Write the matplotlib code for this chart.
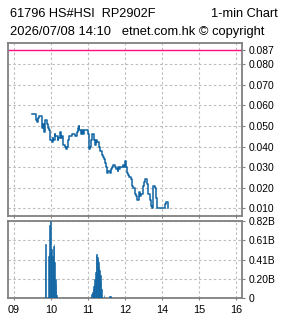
import matplotlib
matplotlib.use("Agg")
import matplotlib.pyplot as plt
from matplotlib.ticker import FixedLocator

# ---------------- data ----------------
# price change points: (clock time, price)
price_times = ["09:30", "09:36", "09:37", "09:39", "09:41", "09:44", "09:45", "09:47", "09:48", "09:50",
               "09:51", "09:53", "09:55", "09:56", "09:58", "09:59", "10:01", "10:03", "10:04", "10:06",
               "10:07", "10:09", "10:11", "10:12", "10:14", "10:15", "10:16", "10:18", "10:19", "10:21",
               "10:23", "10:24", "10:26", "10:28", "10:30", "10:32", "10:34", "10:37", "10:39", "10:42",
               "10:43", "10:45", "10:46", "10:48", "10:49", "10:51", "10:52", "10:54", "10:56", "10:59",
               "11:00", "11:02", "11:04", "11:05", "11:07", "11:09", "11:10", "11:12", "11:13", "11:15",
               "11:17", "11:18", "11:20", "11:22", "11:23", "11:25", "11:26", "11:28", "11:30", "11:31",
               "11:33", "11:35", "11:36", "11:38", "11:39", "11:41", "11:43", "11:44", "11:46", "11:48",
               "11:49", "11:51", "11:52", "11:54", "11:56", "11:57", "11:59", "13:00", "13:02", "13:04",
               "13:05", "13:07", "13:09", "13:10", "13:12", "13:13", "13:15", "13:17", "13:18", "13:20",
               "13:22", "13:23", "13:25", "13:26", "13:28", "13:29", "13:31", "13:33", "13:35", "13:36",
               "13:38", "13:40", "13:42", "13:43", "13:45", "13:46", "13:48", "13:50", "13:52", "14:03",
               "14:05", "14:07", "14:09", "14:10"]
price_values = [0.056, 0.053, 0.052, 0.054, 0.055, 0.055, 0.049, 0.051, 0.047, 0.050,
                0.053, 0.051, 0.049, 0.048, 0.046, 0.043, 0.042, 0.044, 0.043, 0.046,
                0.045, 0.045, 0.043, 0.044, 0.044, 0.047, 0.044, 0.045, 0.041, 0.041,
                0.040, 0.039, 0.040, 0.043, 0.045, 0.045, 0.046, 0.046, 0.045, 0.047,
                0.049, 0.050, 0.048, 0.048, 0.046, 0.048, 0.046, 0.048, 0.048, 0.048,
                0.046, 0.039, 0.040, 0.043, 0.046, 0.045, 0.043, 0.041, 0.043, 0.042,
                0.042, 0.040, 0.038, 0.038, 0.036, 0.035, 0.034, 0.032, 0.030, 0.027,
                0.028, 0.027, 0.027, 0.029, 0.030, 0.031, 0.031, 0.030, 0.029, 0.028,
                0.030, 0.029, 0.030, 0.030, 0.030, 0.031, 0.030, 0.033, 0.030, 0.027,
                0.026, 0.025, 0.024, 0.024, 0.021, 0.020, 0.020, 0.017, 0.016, 0.014,
                0.016, 0.018, 0.016, 0.017, 0.017, 0.021, 0.023, 0.024, 0.024, 0.022,
                0.017, 0.014, 0.011, 0.010, 0.019, 0.021, 0.020, 0.015, 0.010, 0.010,
                0.012, 0.013, 0.011, 0.010]

ref_level = 0.087

vol_times = ["09:50", "09:51", "09:56", "09:57", "09:58", "09:59", "10:00", "10:01", "10:02", "10:03",
             "10:04", "10:05", "10:06", "10:07", "10:08", "10:09",
             "11:06", "11:07", "11:08", "11:09", "11:10", "11:11", "11:12", "11:13", "11:14", "11:15",
             "11:16", "11:17", "11:18", "11:19", "11:20", "11:21", "11:22", "11:26", "11:35", "11:36"]
vol_values = [0.40, 0.58, 0.45, 0.48, 0.78, 0.82, 0.50, 0.52, 0.45, 0.41,
              0.55, 0.58, 0.38, 0.20, 0.15, 0.03,
              0.05, 0.07, 0.10, 0.13, 0.15, 0.20, 0.28, 0.46, 0.47, 0.44,
              0.42, 0.38, 0.33, 0.30, 0.25, 0.18, 0.10, 0.03, 0.02, 0.02]  # billions

price_ticks = [0.010, 0.020, 0.030, 0.040, 0.050, 0.060, 0.070, 0.080, 0.087]
price_tick_labels = ["0.010", "0.020", "0.030", "0.040", "0.050", "0.060", "0.070", "0.080", "0.087"]
vol_ticks = [0.0, 0.205, 0.41, 0.615, 0.82]
vol_tick_labels = ["0", "0.20B", "0.41B", "0.61B", "0.82B"]
hour_ticks = ["09:00", "10:00", "11:00", "12:00", "14:00", "15:00", "16:00"]
hour_labels = ["09", "10", "11", "12", "14", "15", "16"]

title_left = "61796 HS#HSI  RP2902F"
title_right = "1-min Chart"
subtitle = "2026/07/08 14:10   etnet.com.hk \u00a9 copyright"


def tmin(s):
    """trading minutes since 09:00 with the 12:00-13:00 lunch break removed"""
    h, m = map(int, s.split(":"))
    t = (h - 9) * 60 + m
    if h >= 13:
        t -= 60
    return t


px = [tmin(s) for s in price_times]
vx = [tmin(s) for s in vol_times]
hx = [tmin(s) for s in hour_ticks]

# ---------------- figure ----------------
W, H = 285, 318
fig = plt.figure(figsize=(W / 100, H / 100), dpi=100)

BLUE = "#0f64a3"
GREY = "#808080"
GRID = "#bcbcbc"
FONT = "Liberation Sans"


def fx(x):
    return x / W


def fy(y):
    return 1 - y / H


ax = fig.add_axes([fx(8), fy(215.7), fx(242) - fx(8), fy(42.7) - fy(215.7)])
axv = fig.add_axes([fx(8), fy(298.3), fx(242) - fx(8), fy(221) - fy(298.3)])

XLIM = (-9.7, 369.7)

for a in (ax, axv):
    a.set_xlim(*XLIM)
    for s in a.spines.values():
        s.set_color(GREY)
        s.set_linewidth(1.3)
    a.xaxis.set_major_locator(FixedLocator(hx))
    a.grid(True, color=GRID, linestyle=(0, (2.2, 2.2)), linewidth=0.8)
    a.set_axisbelow(True)
    a.yaxis.tick_right()
    a.tick_params(axis="y", which="both", length=2.2, width=0.8, color=GREY, pad=2.5,
                  labelsize=7.4, labelcolor="black")
    a.tick_params(axis="x", length=1.5, width=0.8, color=GREY)

# price panel
ax.set_ylim(0.0064, 0.0905)
ax.yaxis.set_major_locator(FixedLocator(price_ticks))
ax.set_yticklabels(price_tick_labels, fontfamily=FONT)
ax.set_xticklabels([])
ax.axhline(ref_level, color="#ff0a80", linewidth=1.0, zorder=2)
ax.step(px, price_values, where="post", color=BLUE, linewidth=1.1, zorder=3)
for gl, v in zip(ax.get_ygridlines(), price_ticks):
    if v == ref_level:
        gl.set_visible(False)

# volume panel
axv.set_ylim(0, 0.82)
axv.yaxis.set_major_locator(FixedLocator(vol_ticks))
axv.set_yticklabels(vol_tick_labels, fontfamily=FONT)
axv.set_xticklabels(hour_labels, fontfamily=FONT, fontsize=7.8)
axv.tick_params(axis="x", pad=3.5)
axv.bar(vx, vol_values, width=1.0, align="center", color=BLUE, edgecolor=BLUE,
        linewidth=0.4, zorder=3)

# header texts
fig.text(fx(10), fy(17), title_left, fontsize=9.2, fontfamily=FONT, va="baseline", ha="left")
fig.text(fx(278), fy(17), title_right, fontsize=9.2, fontfamily=FONT, va="baseline", ha="right")
fig.text(fx(10), fy(35), subtitle, fontsize=9.3, fontfamily=FONT, va="baseline", ha="left")

fig.savefig("out.png", dpi=100)
